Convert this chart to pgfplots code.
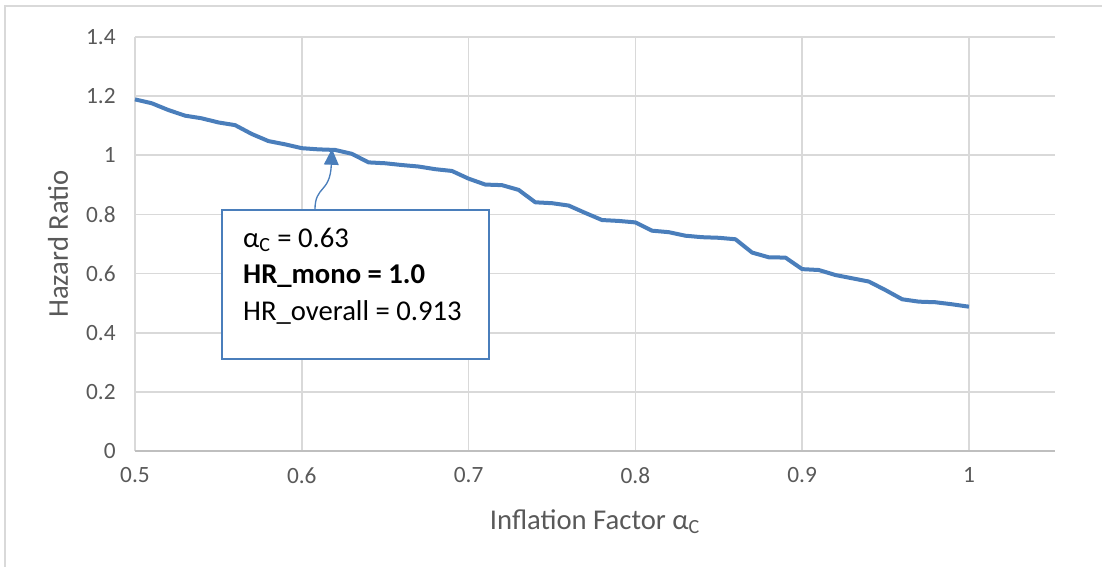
\documentclass[border=0pt]{standalone}
\usepackage{fontspec}
\setmainfont{Carlito}
\usepackage{pgfplots}
\pgfplotsset{compat=1.18}
\usetikzlibrary{arrows.meta}
\definecolor{linebl}{HTML}{4A7EBB}
\definecolor{txtgray}{HTML}{595959}
\definecolor{gridgray}{HTML}{D9D9D9}
\definecolor{axgray}{HTML}{BFBFBF}
\begin{document}
\begin{tikzpicture}
\path[use as bounding box] (0,0) rectangle (826.5pt,425.25pt);
\draw[gridgray, line width=1.2pt] (3.75pt,0) -- (3.75pt,420.75pt) -- (826.5pt,420.75pt);
\begin{axis}[
  at={(101.25pt,87pt)}, anchor=south west,
  scale only axis, width=690pt, height=310.5pt,
  xmin=0.5, xmax=1.0516, ymin=0, ymax=1.4,
  axis lines*=left,
  x axis line style={axgray, line width=1.2pt, -},
  y axis line style={draw=none},
  major tick length=0pt,
  xtick={0.5,0.6,0.7,0.8,0.9,1},
  xticklabels={0.5,0.6,0.7,0.8,0.9,1},
  ytick={0,0.2,0.4,0.6,0.8,1,1.2,1.4},
  yticklabels={0,0.2,0.4,0.6,0.8,1,1.2,1.4},
  grid=major,
  major grid style={gridgray, line width=1.2pt},
  ticklabel style={font=\fontsize{17.5}{20}\selectfont, text=txtgray},
  yticklabel style={anchor=east, xshift=-11pt},
  xticklabel style={anchor=north, yshift=-9pt},
  xlabel={Inflation Factor α\textsubscript{C}},
  ylabel={Hazard Ratio},
  every axis x label/.style={at={(axis description cs:0.5,0)}, anchor=center, yshift=-53pt,
     font=\fontsize{21.5}{24}\selectfont, text=txtgray},
  every axis y label/.style={at={(axis description cs:-0.0837,0.5)}, rotate=90, anchor=center,
     font=\fontsize{21.5}{24}\selectfont, text=txtgray},
  clip=false,
]
\addplot[linebl, line width=3pt, line join=round] coordinates {
(0.50,1.189) (0.51,1.176) (0.52,1.153) (0.53,1.134) (0.54,1.125)
(0.55,1.111) (0.56,1.102) (0.57,1.072) (0.58,1.048) (0.59,1.037)
(0.60,1.024) (0.61,1.020) (0.62,1.018) (0.63,1.005) (0.64,0.976)
(0.65,0.973) (0.66,0.967) (0.67,0.962) (0.68,0.953) (0.69,0.947)
(0.70,0.921) (0.71,0.901) (0.72,0.899) (0.73,0.883) (0.74,0.841)
(0.75,0.838) (0.76,0.830) (0.77,0.805) (0.78,0.781) (0.79,0.778)
(0.80,0.773) (0.81,0.745) (0.82,0.740) (0.83,0.728) (0.84,0.723)
(0.85,0.721) (0.86,0.716) (0.87,0.671) (0.88,0.655) (0.89,0.654)
(0.90,0.615) (0.91,0.612) (0.92,0.595) (0.93,0.584) (0.94,0.573)
(0.95,0.544) (0.96,0.513) (0.97,0.505) (0.98,0.503) (0.99,0.496)
(1.00,0.488)
};
\draw[linebl, line width=1pt, fill=white] (axis cs:0.5522,0.311) rectangle (axis cs:0.7122,0.815);
\draw[linebl, line width=1pt, -{Triangle[width=11pt,length=12pt]}]
  (axis cs:0.6079,0.815) .. controls (axis cs:0.6079,0.90) and (axis cs:0.6170,0.87) .. (axis cs:0.6181,1.022);
\node[anchor=west, inner sep=0pt, font=\fontsize{21.5}{24}\selectfont] at (axis cs:0.5647,0.7136) {α\textsubscript{C} = 0.63};
\node[anchor=west, inner sep=0pt, font=\fontsize{21.5}{24}\selectfont\bfseries] at (axis cs:0.5647,0.5918) {HR\_mono = 1.0};
\node[anchor=west, inner sep=0pt, font=\fontsize{21.5}{24}\selectfont] at (axis cs:0.5647,0.470) {HR\_overall = 0.913};
\end{axis}
\end{tikzpicture}
\end{document}
